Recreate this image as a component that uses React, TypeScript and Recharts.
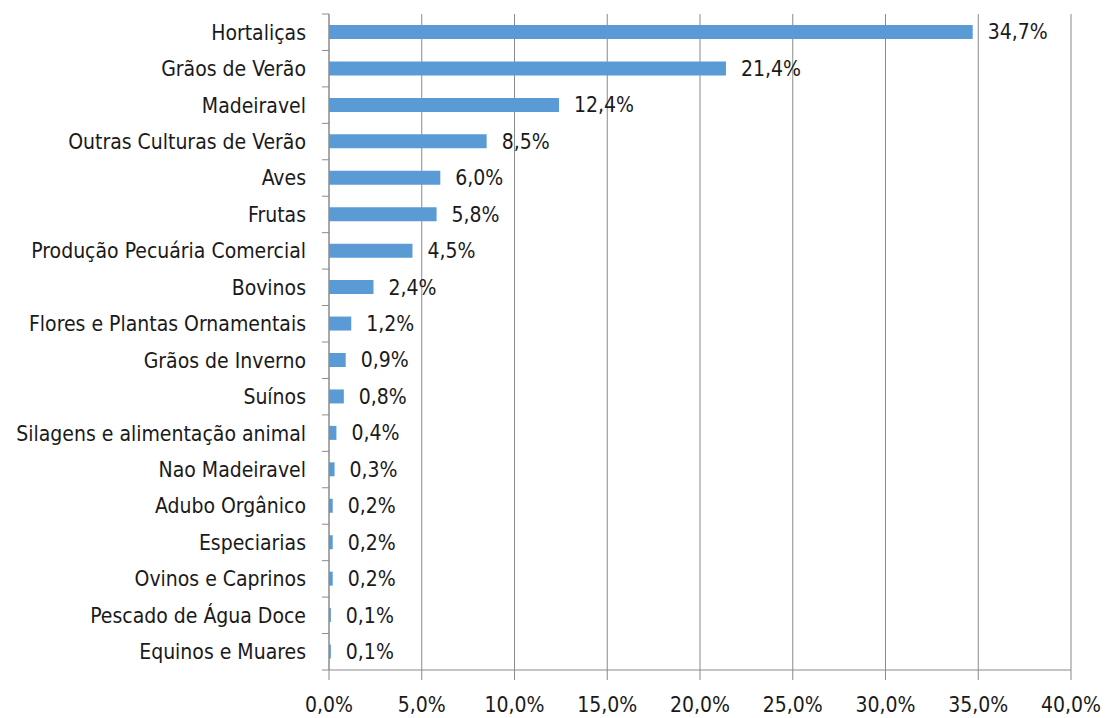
import React from 'react';
import { BarChart, Bar, XAxis, YAxis, CartesianGrid, LabelList } from 'recharts';

const categories = [
  'Hortaliças',
  'Grãos de Verão',
  'Madeiravel',
  'Outras Culturas de Verão',
  'Aves',
  'Frutas',
  'Produção Pecuária Comercial',
  'Bovinos',
  'Flores e Plantas Ornamentais',
  'Grãos de Inverno',
  'Suínos',
  'Silagens e alimentação animal',
  'Nao Madeiravel',
  'Adubo Orgânico',
  'Especiarias',
  'Ovinos e Caprinos',
  'Pescado de Água Doce',
  'Equinos e Muares',
];

const shares = [34.7, 21.4, 12.4, 8.5, 6.0, 5.8, 4.5, 2.4, 1.2, 0.9, 0.8, 0.4, 0.3, 0.2, 0.2, 0.2, 0.1, 0.1];

const xTicks = [0, 5, 10, 15, 20, 25, 30, 35, 40];

const data = categories.map((name, i) => ({ name, value: shares[i] }));

const FONT = '"DejaVu Sans Condensed", "DejaVu Sans", sans-serif';
const AXIS = '#8a8a8a';
const TICK_SIZE = 7;
const TICK_MARGIN = 16;

const W = 1107;
const H = 718;
const TOP = 14;
const X_AXIS_H = 48;
const HALF_BAND = (H - TOP - X_AXIS_H) / categories.length / 2;

const pct = (v: number) => v.toFixed(1).replace('.', ',') + '%';

function CategoryTick(props: any) {
  const { x, y, payload, index } = props;
  const ax = x + TICK_MARGIN + TICK_SIZE;
  const last = index === categories.length - 1;
  return (
    <g>
      <line x1={ax - TICK_SIZE} x2={ax} y1={y - HALF_BAND} y2={y - HALF_BAND} stroke={AXIS} />
      {last && <line x1={ax - TICK_SIZE} x2={ax} y1={y + HALF_BAND} y2={y + HALF_BAND} stroke={AXIS} />}
      <text x={x} y={y} dy="0.355em" textAnchor="end" fontSize={21} fontFamily={FONT} fill="#1a1a1a">
        {payload.value}
      </text>
    </g>
  );
}

export default function App() {
  return (
    <div style={{ position: 'absolute', left: 0, top: 0, background: '#fff' }}>
      <BarChart
        width={W}
        height={H}
        data={data}
        layout="vertical"
        margin={{ top: TOP, right: 36, bottom: 0, left: 0 }}
        barCategoryGap={0}
      >
        <CartesianGrid horizontal={false} stroke={AXIS} />
        <XAxis
          type="number"
          domain={[0, 40]}
          ticks={xTicks}
          tickFormatter={pct}
          height={X_AXIS_H}
          interval={0}
          tickSize={10}
          tickMargin={17}
          stroke={AXIS}
          tick={{ fontSize: 21, fontFamily: FONT, fill: '#1a1a1a' }}
        />
        <YAxis
          type="category"
          dataKey="name"
          width={329}
          interval={0}
          tickLine={false}
          tickSize={TICK_SIZE}
          tickMargin={TICK_MARGIN}
          stroke={AXIS}
          tick={<CategoryTick />}
        />
        <Bar dataKey="value" fill="#5b9bd5" barSize={14} isAnimationActive={false}>
          <LabelList
            dataKey="value"
            position="right"
            offset={15}
            formatter={(v: any) => pct(Number(v))}
            style={{ fontSize: 21, fontFamily: FONT, fill: '#1a1a1a' }}
          />
        </Bar>
      </BarChart>
    </div>
  );
}
